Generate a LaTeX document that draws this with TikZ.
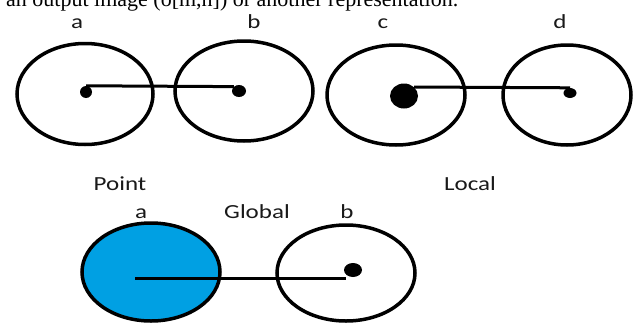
\documentclass[tikz,border=0pt]{standalone}
\usepackage{fontspec}
\usetikzlibrary{shapes.geometric}
\newfontfamily\lblfont[FakeStretch=1.25]{Carlito}
\newfontfamily\serfont{Liberation Serif}
\definecolor{fillblue}{RGB}{0,160,227}
\tikzset{
  ring/.style={draw=black, line width=3.5pt, ellipse, inner sep=0pt},
  blob/.style={fill=black, ellipse, inner sep=0pt},
  conn/.style={draw=black, line width=3pt},
  lbl/.style={anchor=base, inner sep=0pt, font=\lblfont\fontsize{20}{24}\selectfont, text=black!90}
}
\begin{document}
\begin{tikzpicture}[x=1pt, y=-1pt]
\useasboundingbox (0,0) rectangle (634,324);
\clip (0,0) rectangle (634,324);
% cut-off caption text at top
\node[anchor=base west, inner sep=0pt, font=\serfont\fontsize{22}{26}\selectfont] (cap) at (6,6) {an output image (o[m,n]) or another representation.};
% top row ellipses
\node[ring, minimum width=136pt, minimum height=101pt] (A) at (85,94) {};
\node[ring, minimum width=138pt, minimum height=100pt] (B) at (244,91) {};
\node[ring, minimum width=138pt, minimum height=100pt] (C) at (396,95) {};
\node[ring, minimum width=128pt, minimum height=100pt] (D) at (567,95) {};
% bottom ellipses
\node[ring, fill=fillblue, minimum width=138pt, minimum height=98pt] (E) at (151,272) {};
\node[ring, minimum width=138pt, minimum height=96pt] (F) at (346,273) {};
% dots
\node[blob, minimum width=12pt, minimum height=12pt] (pa) at (86,92) {};
\node[blob, minimum width=14pt, minimum height=12pt] (pb) at (239,91) {};
\node[blob, minimum width=28pt, minimum height=25pt] (pc) at (404,96) {};
\node[blob, minimum width=13pt, minimum height=10pt] (pd) at (570,93) {};
\node[blob, minimum width=18pt, minimum height=14pt] (pe) at (353,270) {};
\coordinate (s3) at (135,278);
% connectors
\draw[conn] (pa.north) -- (pb.north west);
\draw[conn] (pc.north east) -- (pd.north);
\draw[conn] (s3) -- (s3 -| pe.south west);
% labels
\node[lbl] (la) at (77,28) {a};
\node[lbl] (lb) at (254,28) {b};
\node[lbl] (lc) at (383,28) {c};
\node[lbl] (ld) at (560,28) {d};
\node[lbl] (lpoint) at (120,190) {Point};
\node[lbl] (llocal) at (470,190) {Local};
\node[lbl] (la2) at (141,218) {a};
\node[lbl] (lglobal) at (257,218) {Global};
\node[lbl] (lb2) at (347,218) {b};
\end{tikzpicture}
\end{document}
